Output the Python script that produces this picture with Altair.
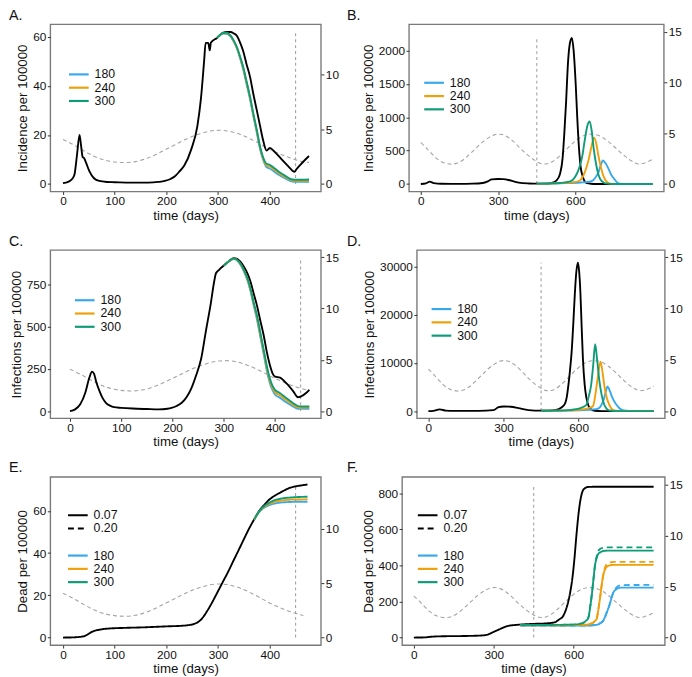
import altair as alt
import pandas as pd

# ---------------- data ----------------
# seasonal curve (right axis), common to all panels
seas_t = [0, 20, 40, 60, 80, 100, 118, 140, 165, 190, 215, 240, 265, 285, 302, 320, 345, 370, 395, 420,
          445, 465, 476, 490, 510, 540, 570, 600, 630, 660, 690, 720, 750, 780, 810, 830, 845, 865, 885, 900]
seas_v = [4.08, 3.6, 3.05, 2.55, 2.2, 2.02, 1.96, 2.05, 2.4, 2.95, 3.55, 4.15, 4.6, 4.85, 4.92, 4.85, 4.5, 3.95, 3.3, 2.75,
          2.3, 2.03, 1.98, 2.0, 2.2, 2.8, 3.55, 4.25, 4.75, 4.92, 4.78, 4.35, 3.7, 3.0, 2.4, 2.1, 1.98, 2.05, 2.25, 2.45]

scenarios = ["180", "240", "300"]
scen_colors = ["#38A8EC", "#EE9F0A", "#0E9B77"]
mu_levels = ["0.07", "0.20"]
vline_t = 450

# ---- Panel A: incidence, short run ----
A_t = [0, 10, 16, 22, 27, 32, 35, 38, 41, 44, 51, 60, 70, 85, 100, 130, 165, 185, 197, 208,
       216, 225, 235, 248, 260, 267, 273, 276, 281, 284, 286, 298, 310, 317, 324, 330, 337, 343, 349, 355,
       362, 368, 375, 381, 387, 394, 400, 410, 425, 436, 444, 448, 451, 460, 476]
A_black = [0.3, 0.8, 1.6, 3.6, 11.6, 20.0, 15.6, 11.0, 10.5, 9.0, 5.2, 2.3, 1.2, 0.8, 0.7, 0.5, 0.5, 0.8, 1.2, 2.0,
           3.0, 5.0, 7.6, 14.0, 23.6, 35.0, 50.0, 57.6, 57.6, 54.5, 57.6, 59.6, 61.8, 62.0, 62.0, 61.5, 60.3, 57.5, 54.0, 49.0,
           43.6, 37.0, 30.0, 24.0, 18.0, 13.6, 14.7, 13.0, 9.6, 7.2, 5.4, 4.9, 5.8, 8.0, 11.4]
A_ct = [298, 310, 317, 324, 330, 337, 343, 349, 355, 362, 368, 375, 381, 387, 394, 400, 410, 419, 430, 444, 451, 460, 476]
A_blue = [59.6, 61.4, 61.3, 60.2, 58.2, 55.0, 51.0, 46.5, 41.0, 34.5, 28.0, 21.0, 14.5, 10.0, 6.8, 6.3, 4.8, 3.5, 2.2, 1.0, 0.9, 0.9, 0.9]
A_orange = [59.6, 61.5, 61.5, 60.4, 58.4, 55.3, 51.4, 47.0, 41.5, 35.0, 28.5, 21.5, 15.0, 10.5, 7.5, 7.1, 5.6, 4.2, 2.8, 1.4, 1.3, 1.3, 1.4]
A_green = [59.6, 61.6, 61.7, 60.6, 58.7, 55.6, 51.8, 47.5, 42.0, 35.5, 29.0, 22.0, 15.5, 11.0, 8.2, 7.8, 6.3, 4.8, 3.3, 1.8, 1.7, 1.7, 1.8]

# ---- Panel B: incidence, long run ----
B_t = [0, 20, 35, 50, 80, 150, 200, 240, 260, 275, 300, 320, 340, 360, 380, 420, 450, 480, 500, 515,
       528, 540, 550, 557, 564, 570, 578, 586, 593, 601, 607, 614, 620, 627, 635, 645, 660, 680, 900]
B_black = [0, 10, 35, 12, 3, 2, 5, 15, 40, 70, 75, 72, 60, 40, 20, 8, 5, 5, 10, 25,
           60, 150, 380, 770, 1250, 1750, 2100, 2190, 2000, 1500, 1000, 525, 260, 130, 45, 12, 3, 0, 0]
B_blue_t = [450, 560, 620, 645, 665, 678, 690, 698, 707, 717, 728, 740, 754, 763, 773, 790, 900]
B_blue = [5, 12, 22, 30, 45, 100, 181, 280, 353, 310, 230, 130, 59, 20, 5, 0, 0]
B_orange_t = [450, 540, 590, 614, 630, 642, 652, 662, 672, 680, 688, 697, 706, 716, 726, 735, 760, 900]
B_orange = [5, 12, 25, 45, 120, 240, 377, 560, 696, 620, 450, 280, 150, 60, 20, 5, 0, 0]
B_green_t = [450, 500, 540, 570, 589, 605, 617, 627, 637, 646, 655, 663, 671, 680, 690, 700, 716, 740, 760, 900]
B_green = [5, 8, 15, 30, 60, 150, 270, 426, 680, 870, 940, 800, 525, 300, 130, 50, 10, 2, 0, 0]

# ---- Panel C: infections, short run ----
C_t = [0, 10, 20, 30, 38, 43, 47, 51, 58, 64, 70, 78, 86, 100, 122, 150, 173, 190, 198, 208,
       218, 228, 237, 246, 256, 265, 275, 281, 285, 291, 294, 300, 307, 314, 320, 326, 332, 339, 346, 352,
       358, 365, 371, 378, 384, 390, 395, 400, 410, 422, 435, 445, 451, 460, 467]
C_black = [0, 10, 40, 110, 200, 233, 220, 175, 115, 75, 49, 32, 23, 19, 15, 12, 10, 14, 19, 30,
           49, 85, 136, 210, 311, 470, 641, 760, 816, 835, 845, 860, 878, 895, 903, 900, 885, 855, 815, 767,
           700, 622, 540, 447, 350, 272, 225, 204, 198, 165, 120, 82, 87, 105, 126]
C_ct = [300, 307, 314, 320, 326, 332, 339, 346, 352, 358, 365, 371, 378, 384, 390, 395, 400, 410, 422, 435, 445, 451, 460, 467]
C_blue = [860, 878, 893, 898, 890, 868, 828, 775, 712, 630, 540, 445, 335, 240, 165, 125, 98, 78, 52, 28, 14, 13, 13, 14]
C_orange = [860, 878, 894, 900, 893, 872, 833, 781, 720, 640, 552, 458, 350, 255, 180, 138, 112, 93, 65, 38, 22, 20, 21, 22]
C_green = [860, 878, 895, 901, 895, 875, 837, 787, 727, 648, 562, 470, 362, 268, 192, 150, 125, 106, 77, 48, 29, 27, 27, 28]

# ---- Panel D: infections, long run ----
D_t = [0, 20, 45, 70, 100, 200, 260, 280, 300, 330, 360, 400, 450, 480, 510, 530, 545, 552, 560, 566,
       572, 579, 585, 591, 597, 602, 607, 612, 617, 624, 631, 640, 650, 665, 690, 900]
D_black = [0, 50, 350, 100, 30, 30, 200, 800, 950, 900, 600, 200, 80, 100, 250, 700, 1500, 2730, 5800, 8700,
           12280, 18500, 24550, 29000, 30800, 29000, 24550, 17500, 10900, 5500, 2730, 1000, 340, 60, 0, 0]
D_blue_t = [450, 560, 640, 670, 683, 693, 702, 709, 715, 722, 735, 748, 761, 771, 781, 800, 820, 900]
D_blue = [60, 100, 250, 400, 680, 1500, 2730, 4200, 5120, 4500, 2730, 1500, 680, 300, 140, 20, 0, 0]
D_orange_t = [450, 540, 600, 640, 657, 667, 676, 687, 695, 702, 712, 722, 732, 741, 760, 780, 900]
D_orange = [60, 100, 250, 600, 1000, 3500, 6820, 10230, 8200, 5460, 2800, 1360, 450, 140, 20, 0, 0]
D_green_t = [450, 520, 570, 600, 620, 631, 640, 650, 658, 666, 674, 683, 692, 702, 712, 722, 740, 760, 900]
D_green = [60, 100, 250, 500, 900, 1300, 3000, 5460, 9500, 13850, 10500, 6140, 3300, 1360, 450, 140, 20, 0, 0]

# ---- Panel E: dead, short run ----
E_t = [0, 20, 40, 48, 55, 62, 70, 80, 90, 120, 150, 200, 230, 240, 250, 258, 265, 272, 280, 290,
       300, 310, 320, 330, 340, 350, 360, 370, 380, 390, 400, 410, 420, 430, 440, 450, 460, 473]
E_black = [0, 0.1, 0.6, 1.5, 2.6, 3.3, 3.7, 4.1, 4.3, 4.6, 4.8, 5.3, 5.6, 5.8, 6.2, 6.9, 8.0, 10.0, 13.0, 17.3,
           22.0, 26.7, 31.4, 36.5, 41.5, 46.6, 51.6, 56.0, 60.1, 63.0, 65.5, 67.2, 68.6, 69.9, 71.0, 71.6, 72.0, 72.5]
E_ct = [370, 380, 390, 400, 410, 420, 430, 440, 450, 460, 473]
E_blue = [55.8, 59.5, 61.6, 62.8, 63.5, 63.9, 64.1, 64.2, 64.3, 64.3, 64.3]
E_orange = [55.9, 59.7, 62.0, 63.4, 64.3, 64.8, 65.1, 65.3, 65.4, 65.4, 65.5]
E_green = [56.0, 59.9, 62.4, 64.0, 65.1, 65.7, 66.1, 66.3, 66.5, 66.6, 66.7]

# ---- Panel F: dead, long run (solid = 0.07, dashed = 0.20) ----
F_t = [0, 40, 60, 80, 100, 200, 260, 280, 290, 305, 320, 335, 350, 375, 400, 450, 500, 530, 545, 561,
       572, 580, 588, 595, 603, 610, 617, 625, 633, 641, 655, 680, 900]
F_black = [0, 1, 4, 6, 7, 9, 12, 18, 25, 35, 45, 55, 63, 69, 72, 76, 79, 85, 100, 121,
           160, 202, 260, 328, 440, 562, 670, 760, 810, 827, 835, 836, 836]
F_blue_t = [400, 500, 650, 690, 700, 711, 723, 735, 742, 748, 757, 766, 780, 900]
F_blue = [67, 67, 67, 72, 80, 94, 135, 184, 220, 247, 265, 273, 277, 277]
F_blue_d = [67, 67, 67, 72, 80, 94, 135, 184, 220, 247, 270, 284, 291, 292]
F_orange_t = [400, 500, 600, 650, 670, 680, 686, 692, 699, 705, 711, 717, 723, 735, 750, 900]
F_orange = [68, 68, 69, 72, 80, 92, 103, 150, 220, 290, 346, 375, 391, 400, 403, 403]
F_orange_d = [68, 68, 69, 72, 80, 92, 103, 150, 220, 290, 346, 385, 405, 416, 420, 420]
F_green_t = [400, 500, 600, 630, 645, 655, 662, 668, 674, 680, 686, 692, 700, 711, 730, 900]
F_green = [70, 70, 72, 78, 92, 110, 170, 238, 320, 400, 440, 463, 473, 480, 482, 482]
F_green_d = [70, 70, 72, 78, 92, 110, 170, 238, 320, 400, 448, 478, 492, 498, 500, 500]

FONT = "Liberation Sans"
GREY = "#a3a3a3"
LEG_SYMBOL = "M-2,0H2"


def long_df(series):
    rows = []
    for tl, vl, scen, mu in series:
        for t, v in zip(tl, vl):
            rows.append({"t": t, "v": v, "scen": scen, "mu": mu})
    return pd.DataFrame(rows)


def legend(x, y, **kw):
    return alt.Legend(orient="none", legendX=x, legendY=y, title=None,
                      symbolType=LEG_SYMBOL, symbolSize=100, symbolStrokeWidth=2.2,
                      labelFontSize=12.5, labelOffset=9.5, rowPadding=0.5, padding=0,
                      labelFont=FONT, labelColor="#111", **kw)


def panel(letter, title_dx, ylab, width, height, black_t, black_v, colored, xdom, xticks,
          ydom, yticks, rdom, rticks, t_end, vtop, leg_x, leg_y, dash_leg_y=None):
    xenc = alt.X("t:Q", scale=alt.Scale(domain=xdom, nice=False, zero=False),
                 axis=alt.Axis(values=xticks, format="d", title="time (days)"))
    lscale = alt.Scale(domain=ydom, nice=False, zero=False)

    seas_df = pd.DataFrame({"t": seas_t, "v": seas_v})
    seas_df = seas_df[seas_df.t <= t_end]
    seas = alt.Chart(seas_df).mark_line(color=GREY, strokeDash=[4, 3], strokeWidth=1.1,
                                        interpolate="monotone").encode(
        x=xenc,
        y=alt.Y("v:Q", scale=alt.Scale(domain=rdom, nice=False, zero=False),
                axis=alt.Axis(orient="right", values=rticks, format="d", title=None)))

    vdf = pd.DataFrame({"t": [vline_t], "y0": [0], "y1": [vtop]})
    vline = alt.Chart(vdf).mark_rule(color=GREY, strokeDash=[3, 3], strokeWidth=1.1).encode(
        x=xenc, y=alt.Y("y0:Q", scale=lscale, axis=None), y2="y1:Q")

    bdf = pd.DataFrame({"t": black_t, "v": black_v, "mu": "0.07"})
    benc = dict(x=xenc, y=alt.Y("v:Q", scale=lscale,
                                axis=alt.Axis(values=yticks, format="d", title=ylab)))
    dash_scale = alt.Scale(domain=mu_levels, range=[[1, 0], [6, 4]])
    dash_leg = None
    if dash_leg_y is not None:
        dash_leg = legend(leg_x, dash_leg_y, symbolStrokeColor="black")
        benc["strokeDash"] = alt.StrokeDash("mu:N", scale=dash_scale, legend=dash_leg)
    black = alt.Chart(bdf).mark_line(color="black", strokeWidth=1.9, interpolate="monotone").encode(**benc)

    cdf = long_df(colored)
    cenc = dict(
        x=xenc, y=alt.Y("v:Q", scale=lscale, axis=None),
        color=alt.Color("scen:N", scale=alt.Scale(domain=scenarios, range=scen_colors),
                        legend=legend(leg_x, leg_y)))
    if dash_leg_y is not None:
        cenc["strokeDash"] = alt.StrokeDash("mu:N", scale=dash_scale, legend=dash_leg)
    col = alt.Chart(cdf).mark_line(strokeWidth=1.9, interpolate="monotone").encode(**cenc)

    return alt.layer(seas, vline, black, col).resolve_scale(y="independent").properties(
        width=width, height=height,
        title=alt.TitleParams(text=letter, anchor="start", frame="group", dx=title_dx,
                              fontSize=14.5, fontWeight="normal", font=FONT, color="#111", offset=1))


pA = panel("A.", -42, "Incidence per 100000", 275, 170, A_t, A_black,
           [(A_ct, A_blue, "180", "0.07"), (A_ct, A_orange, "240", "0.07"), (A_ct, A_green, "300", "0.07")],
           [-24.5, 499], [0, 100, 200, 300, 400], [-3.1, 65.2], [0, 20, 40, 60],
           [-0.69, 14.64], [0, 5, 10], 476, 62.3, 22.5, 44.5)
pB = panel("B.", -63, "Incidence per 100000", 259, 170, B_t, B_black,
           [(B_blue_t, B_blue, "180", "0.07"), (B_orange_t, B_orange, "240", "0.07"),
            (B_green_t, B_green, "300", "0.07")],
           [-46, 943], [0, 300, 600], [-112.7, 2397], [0, 500, 1000, 1500, 2000],
           [-0.74, 15.77], [0, 5, 10, 15], 900, 2190, 19, 53)
pC = panel("C.", -42, "Infections per 100000", 275, 171, C_t, C_black,
           [(C_ct, C_blue, "180", "0.07"), (C_ct, C_orange, "240", "0.07"), (C_ct, C_green, "300", "0.07")],
           [-38.4, 489.6], [0, 100, 200, 300, 400], [-42.7, 951.8], [0, 250, 500, 750],
           [-0.705, 15.7], [0, 5, 10, 15], 467, 903, 28.5, 44.5)
pD = panel("D.", -71, "Infections per 100000", 252, 171, D_t, D_black,
           [(D_blue_t, D_blue, "180", "0.07"), (D_orange_t, D_orange, "240", "0.07"),
            (D_green_t, D_green, "300", "0.07")],
           [-46, 944], [0, 300, 600], [-1500, 33400], [0, 10000, 20000, 30000],
           [-0.705, 15.7], [0, 5, 10, 15], 900, 30800, 18.5, 53.5)
pE = panel("E.", -42, "Dead per 100000", 275, 171, E_t, E_black,
           [(E_ct, E_blue, "180", "0.07"), (E_ct, E_orange, "240", "0.07"), (E_ct, E_green, "300", "0.07")],
           [-24.5, 499], [0, 100, 200, 300, 400], [-3.57, 76.1], [0, 20, 40, 60],
           [-0.69, 14.76], [0, 5, 10], 473, 72.5, 21.5, 73.5, dash_leg_y=32.5)
pF = panel("F.", -56, "Dead per 100000", 267, 171, F_t, F_black,
           [(F_blue_t, F_blue, "180", "0.07"), (F_orange_t, F_orange, "240", "0.07"),
            (F_green_t, F_green, "300", "0.07"),
            (F_blue_t, F_blue_d, "180", "0.20"), (F_orange_t, F_orange_d, "240", "0.20"),
            (F_green_t, F_green_d, "300", "0.20")],
           [-44, 942], [0, 300, 600], [-41.8, 891], [0, 200, 400, 600, 800],
           [-0.74, 15.8], [0, 5, 10, 15], 900, 836, 19.5, 73.5, dash_leg_y=32.5)

chart = alt.concat(pA, pB, pC, pD, pE, pF, columns=2, align="none",
                   spacing={"row": 9.5, "column": 6.5}).resolve_scale(
    color="independent", strokeDash="independent"
).properties(
    padding={"left": 0, "top": -7, "right": 0, "bottom": 0}
).configure(font=FONT, background="white").configure_view(
    stroke="#7a7a7a", strokeWidth=1.4
).configure_axis(
    domain=False, grid=False, tickColor="#333", tickSize=3, tickWidth=1,
    labelFontSize=12, labelColor="#111", labelFont=FONT, labelPadding=1.5,
    titleFontSize=13.5, titleFontWeight="normal", titleColor="#111", titleFont=FONT
).configure_axisX(titlePadding=1.5).configure_axisY(titlePadding=3)

chart.save("out.html", embed_options={"renderer": "svg", "actions": False})
